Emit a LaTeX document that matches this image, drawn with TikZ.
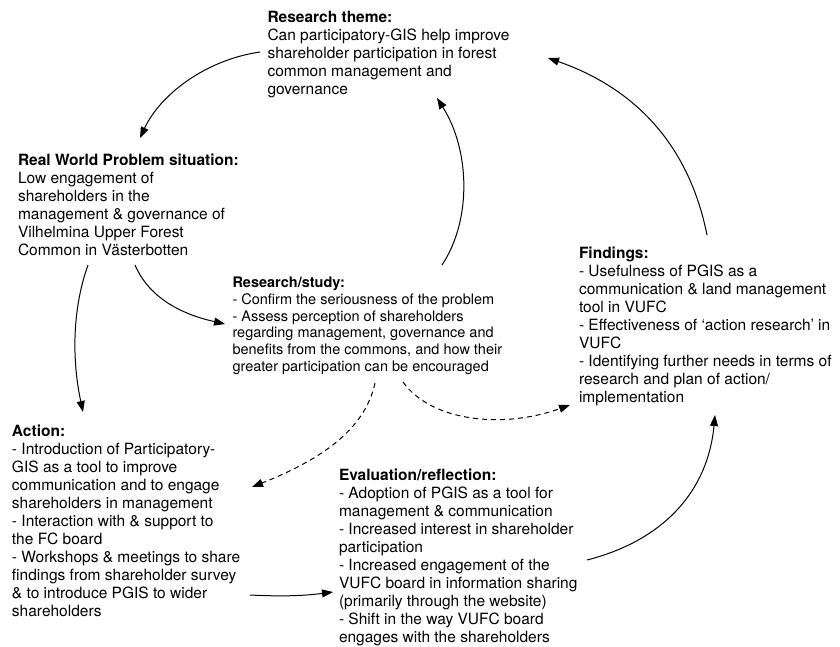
\documentclass[tikz,border=0pt]{standalone}
\usepackage{fontspec}
\setmainfont{TeX Gyre Heros}
\usetikzlibrary{arrows.meta,calc}
\begin{document}
\begin{tikzpicture}[x=1pt,y=-1pt,
  txt/.style={anchor=north west,inner sep=0pt,outer sep=0pt,align=left,
    font=\fontsize{15.5}{18}\selectfont},
  smalltxt/.style={txt,font=\fontsize{14.5}{16.8}\selectfont},
  conn/.style={line width=1pt,-{Triangle[length=11pt,width=8pt]}},
  dconn/.style={conn,dash pattern=on 5pt off 4pt}]
\useasboundingbox (0,0) rectangle (840,646);
\node[txt] (theme) at (267.5,11.4) {\textbf{Research theme:}\\
Can participatory-GIS help improve\\
shareholder participation in forest\\
common management and\\
governance};
\node[txt] (rw) at (18,154) {\textbf{Real World Problem situation:}\\
Low engagement of\\
shareholders in the\\
management \& governance of\\
Vilhelmina Upper Forest\\
Common in Västerbotten};
\node[smalltxt] (study) at (232.5,277) {\textbf{Research/study:}\\
- Confirm the seriousness of the problem\\
- Assess perception of shareholders\\
regarding management, governance and\\
benefits from the commons, and how their\\
greater participation can be encouraged};
\node[txt] (find) at (579,247) {\textbf{Findings:}\\
- Usefulness of PGIS as a\\
communication \& land management\\
tool in VUFC\\
- Effectiveness of ‘action research’ in\\
VUFC\\
- Identifying further needs in terms of\\
research and plan of action/\\
implementation};
\node[txt] (action) at (12,425) {\textbf{Action:}\\
- Introduction of Participatory-\\
GIS as a tool to improve\\
communication and to engage\\
shareholders in management\\
- Interaction with \& support to\\
the FC board\\
- Workshops \& meetings to share\\
findings from shareholder survey\\
\& to introduce PGIS to wider\\
shareholders};
\node[txt] (eval) at (339,469) {\textbf{Evaluation/reflection:}\\
- Adoption of PGIS as a tool for\\
management \& communication\\
- Increased interest in shareholder\\
participation\\
- Increased engagement of the\\
VUFC board in information sharing\\
(primarily through the website)\\
- Shift in the way VUFC board\\
engages with the shareholders};
% connectors
\draw[conn] ($(theme.north west)+(-7.5,40.6)$) .. controls (205,60) and (160,95) .. ($(rw.north west)+(122,-16)$);
\draw[conn] ($(study.north west)+(209.5,-12)$) .. controls (472,220) and (470,150) .. ($(theme.north west)+(169.5,86.6)$);
\draw[conn] ($(find.north west)+(128,-12)$) .. controls (690,150) and (640,90) .. ($(theme.north west)+(280.5,46.6)$);
\draw[conn] ($(rw.north west)+(70,111)$) .. controls (72,310) and (72,360) .. ($(action.north west)+(71,-13)$);
\draw[conn] ($(rw.north west)+(117,111)$) .. controls (150,300) and (185,315) .. ($(study.north west)+(-7.5,47)$);
\draw[dconn] ($(study.north west)+(142.5,106)$) .. controls (365,430) and (320,460) .. ($(action.north west)+(240,62)$);
\draw[dconn] ($(study.north west)+(170.5,105)$) .. controls (430,420) and (500,430) .. ($(find.north west)+(-9,158)$);
\draw[conn] ($(action.north west)+(238,170)$) .. controls (290,597) and (310,595) .. ($(eval.north west)+(-6,123)$);
\draw[conn] ($(eval.north west)+(248,91)$) .. controls (665,540) and (708,490) .. ($(find.north west)+(136,168)$);
\end{tikzpicture}
\end{document}
